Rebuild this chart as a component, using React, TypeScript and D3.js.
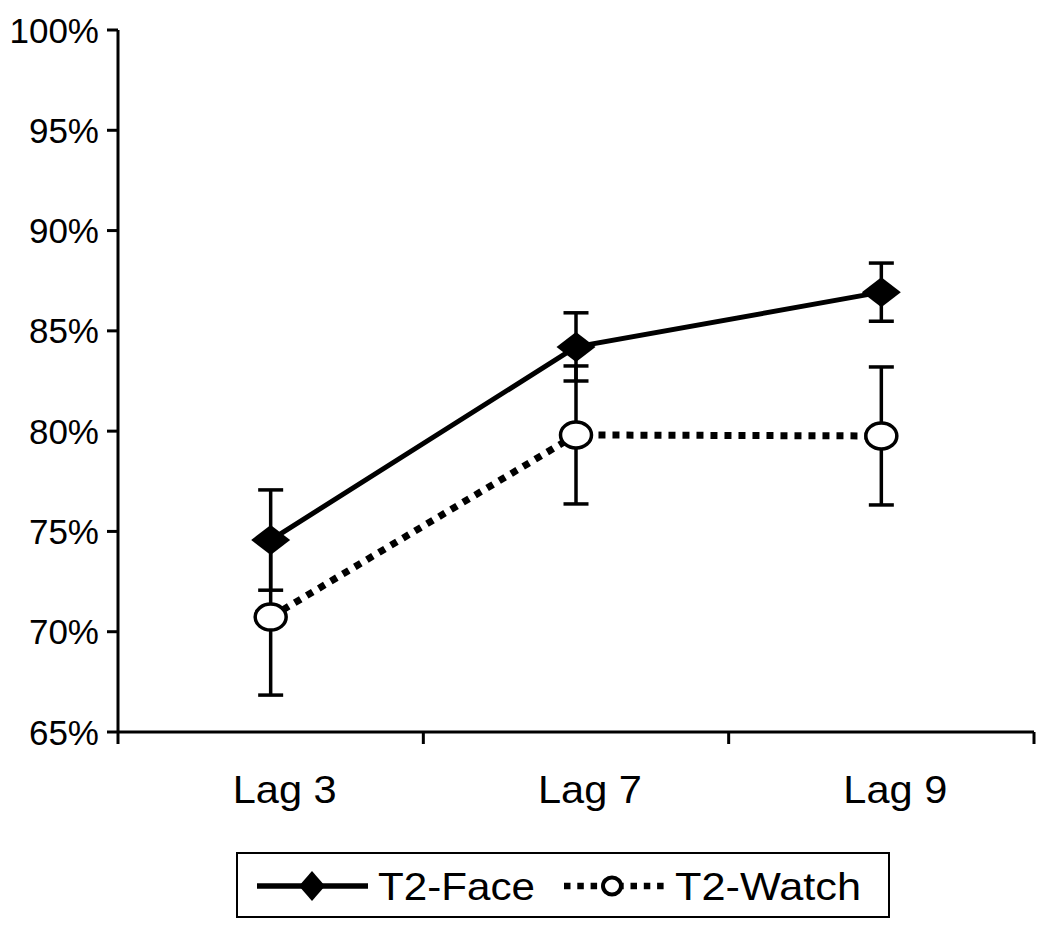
import React from "react";
import * as d3 from "d3";

const categories = ["Lag 3", "Lag 7", "Lag 9"];
const faceValues = [74.57, 84.2, 86.93];
const faceErrors = [2.5, 1.7, 1.45];
const watchValues = [70.73, 79.81, 79.76];
const watchErrors = [3.89, 3.44, 3.44];
const yTicks = [65, 70, 75, 80, 85, 90, 95, 100];
const seriesNames = ["T2-Face", "T2-Watch"];

const W = 1050;
const H = 929;
const left = 118;
const right = 1034;
const top = 30;
const bottom = 732;
const FONT = "'Liberation Sans', Arial, sans-serif";

export default function App() {
  const x = d3.scaleBand<string>().domain(categories).range([left, right]).padding(0);
  const y = d3.scaleLinear().domain([65, 100]).range([bottom, top]);
  const cx = (c: string) => (x(c) as number) + x.bandwidth() / 2;

  const line = d3
    .line<number>()
    .x((_, i) => cx(categories[i]))
    .y((d) => y(d));

  const diamond = (px: number, py: number, hw = 19, hh = 15) =>
    `M${px - hw},${py}L${px},${py - hh}L${px + hw},${py}L${px},${py + hh}Z`;

  const capW = 12.5;
  const errBars = (vals: number[], errs: number[], key: string) =>
    vals.map((v, i) => {
      const px = cx(categories[i]);
      const y1 = y(v + errs[i]);
      const y2 = y(v - errs[i]);
      return (
        <g key={key + i} stroke="#000" strokeWidth={3.5}>
          <line x1={px} x2={px} y1={y1} y2={y2} />
          <line x1={px - capW} x2={px + capW} y1={y1} y2={y1} />
          <line x1={px - capW} x2={px + capW} y1={y2} y2={y2} />
        </g>
      );
    });

  const bandTicks = [left, ...categories.map((c) => (x(c) as number) + x.bandwidth())];
  const legY = 886;

  return (
    <svg width={W} height={H} style={{ position: "absolute", left: 0, top: 0, background: "#fff" }}>
      <rect x={0} y={0} width={W} height={H} fill="#fff" />
      {/* axes */}
      <g stroke="#000" strokeWidth={3}>
        <line x1={left} x2={left} y1={top} y2={bottom} />
        <line x1={left} x2={right} y1={bottom} y2={bottom} />
        {yTicks.map((t) => (
          <line key={"yt" + t} x1={left - 11} x2={left} y1={y(t)} y2={y(t)} />
        ))}
        {bandTicks.map((t, i) => (
          <line key={"xt" + i} x1={t} x2={t} y1={bottom} y2={bottom + 12} />
        ))}
      </g>
      {yTicks.map((t) => (
        <text
          key={"yl" + t}
          x={99}
          y={y(t) + 12.5}
          textAnchor="end"
          fontFamily={FONT}
          fontSize={35}
          fill="#000"
        >
          {t + "%"}
        </text>
      ))}
      {categories.map((c) => (
        <text
          key={"xl" + c}
          x={cx(c) + 14 - 52}
          y={803}
          fontFamily={FONT}
          fontSize={39}
          fill="#000"
          textLength={104}
          lengthAdjust="spacingAndGlyphs"
        >
          {c}
        </text>
      ))}

      {/* error bars */}
      {errBars(watchValues, watchErrors, "we")}
      {errBars(faceValues, faceErrors, "fe")}

      {/* lines */}
      <path d={line(watchValues) || ""} fill="none" stroke="#000" strokeWidth={7} strokeDasharray="7 7" />
      <path d={line(faceValues) || ""} fill="none" stroke="#000" strokeWidth={5} />

      {/* markers */}
      {watchValues.map((v, i) => (
        <ellipse
          key={"wm" + i}
          cx={cx(categories[i])}
          cy={y(v)}
          rx={15.5}
          ry={13}
          fill="#fff"
          stroke="#000"
          strokeWidth={3.5}
        />
      ))}
      {faceValues.map((v, i) => (
        <path key={"fm" + i} d={diamond(cx(categories[i]), y(v), 19.5, 15)} fill="#000" />
      ))}

      {/* legend */}
      <rect x={237} y={853} width={652} height={64} fill="#fff" stroke="#000" strokeWidth={2} />
      <line x1={257} x2={368} y1={legY} y2={legY} stroke="#000" strokeWidth={5.5} />
      <path d={diamond(312, legY, 13, 15)} fill="#000" />
      <text
        x={378}
        y={900}
        fontFamily={FONT}
        fontSize={39}
        fill="#000"
        textLength={157}
        lengthAdjust="spacingAndGlyphs"
      >
        {seriesNames[0]}
      </text>
      <line x1={564} x2={668} y1={legY} y2={legY} stroke="#000" strokeWidth={6.5} strokeDasharray="6.5 6.8" />
      <ellipse cx={612} cy={legY} rx={9} ry={8.5} fill="#fff" stroke="#000" strokeWidth={4} />
      <text
        x={675}
        y={900}
        fontFamily={FONT}
        fontSize={39}
        fill="#000"
        textLength={186}
        lengthAdjust="spacingAndGlyphs"
      >
        {seriesNames[1]}
      </text>
    </svg>
  );
}
